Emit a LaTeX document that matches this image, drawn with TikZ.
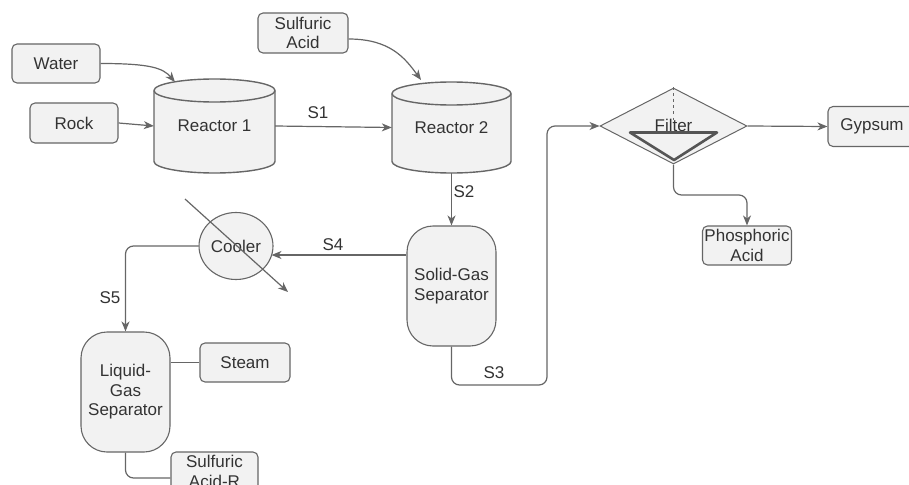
\documentclass[tikz,border=0pt]{standalone}
\usepackage{fontspec}
\setmainfont{Liberation Sans}
\usetikzlibrary{arrows.meta,shapes.geometric}
\definecolor{edge}{HTML}{666666}
\definecolor{edgedark}{HTML}{555555}
\definecolor{fillg}{HTML}{F2F2F2}
\definecolor{txt}{HTML}{333333}
\begin{document}
\begin{tikzpicture}[x=1pt,y=-1pt,
  font=\fontsize{17}{19.5}\selectfont, text=txt,
  box/.style={draw=edge, fill=fillg, rounded corners=5pt, line width=1.1pt, inner sep=0pt, align=center},
  sepbox/.style={draw=edge, fill=fillg, rounded corners=26pt, line width=1.1pt, inner sep=0pt, align=center, minimum width=89pt, minimum height=120pt},
  vessel/.style={draw=edge, fill=fillg, line width=1.4pt},
  flow/.style={draw=edge, line width=1.2pt, -{Stealth[length=10pt,width=8pt,inset=3pt]}},
  link/.style={draw=edge, line width=1.2pt},
  lbl/.style={inner sep=0pt}]
\useasboundingbox (0,0) rectangle (909,484);

% Reactor 1 cylinder
\path[vessel] (154,90.5) -- (154,161.5) arc[start angle=180, end angle=360, x radius=60.5pt, y radius=11.5pt]
  -- (275,90.5) arc[start angle=0, end angle=180, x radius=60.5pt, y radius=11.5pt] -- cycle;
\draw[draw=edge, line width=1.4pt] (154,90.5) arc[start angle=180, end angle=360, x radius=60.5pt, y radius=11.5pt];
\node[minimum width=121pt, minimum height=94pt, inner sep=0pt] (r1) at (214.5,126) {Reactor 1};

% Reactor 2 cylinder
\path[vessel] (392,93.5) -- (392,161.5) arc[start angle=180, end angle=360, x radius=59.5pt, y radius=11.5pt]
  -- (511,93.5) arc[start angle=0, end angle=180, x radius=59.5pt, y radius=11.5pt] -- cycle;
\draw[draw=edge, line width=1.4pt] (392,93.5) arc[start angle=180, end angle=360, x radius=59.5pt, y radius=11.5pt];
\node[minimum width=119pt, minimum height=91pt, inner sep=0pt] (r2) at (451.5,127.5) {Reactor 2};

% Feed boxes
\node[box, minimum width=88pt, minimum height=39pt] (water) at (56,63.5) {Water};
\node[box, minimum width=88pt, minimum height=40pt] (rock) at (74,123) {Rock};
\node[box, minimum width=90pt, minimum height=40pt] (sa) at (303,33) {Sulfuric\\Acid};

% Separators
\node[sepbox] (sgs) at (451.5,286) {Solid-Gas\\Separator};
\node[sepbox] (lgs) at (125.5,392) {Liquid-\\Gas\\Separator};

% Filter
\node[diamond, draw=edge, fill=fillg, line width=1pt, minimum width=147pt, minimum height=76pt, inner sep=0pt] (filter) at (673.5,126) {};
\draw[draw=edge, dashed, line width=0.8pt] (filter.north) -- (673.5,120);
\node[lbl] (filtertxt) at (673.5,125) {Filter};
\draw[draw=edgedark, line width=2.6pt, line join=round] (630,132.5) -- (717,132.5) -- (674,160) -- cycle;

% Products
\node[box, minimum width=88pt, minimum height=40pt] (gyp) at (872,126.5) {Gypsum};
\node[box, minimum width=89pt, minimum height=39pt] (phos) at (747,245.5) {Phosphoric\\Acid};
\node[box, minimum width=90pt, minimum height=39pt] (steam) at (245,362.5) {Steam};
\node[box, minimum width=87pt, minimum height=39pt] (sar) at (214.5,471.5) {Sulfuric\\Acid-R};

% Cooler
\node[ellipse, draw=edge, fill=fillg, line width=1.1pt, minimum width=74pt, minimum height=67pt, inner sep=0pt] (cooler) at (236,246) {Cooler};
\coordinate (cd1) at (185,199);
\coordinate (cd2) at (288,292);
\draw[flow] (cd1) -- (cd2);

% Connectors
\draw[flow] (water.east) .. controls (150,63.5) and (163,68) .. (175,82);
\draw[flow] (sa.east |- 0,39) .. controls (390,39) and (405,58) .. (421,80);
\draw[flow] (rock.east) -- (r1.west);
\draw[flow] (r1.east) -- (r2.west);
\draw[flow] (r2.south) -- (sgs.north);
\draw[flow, rounded corners=8pt] (sgs.south) |- (547,385) |- (filter.west);
\draw[flow] (filter.east) -- (gyp.west);
\draw[flow, rounded corners=8pt] (filter.south) |- (747,195) -- (phos.north);
\draw[flow] (sgs.west |- 0,255) -- (271.5,255);
\draw[flow, rounded corners=8pt] (cooler.west) -| (lgs.north);
\draw[link] (lgs.east |- steam.west) -- (steam.west);
\draw[link, rounded corners=8pt] (lgs.south) |- (sar.west |- 0,478);

% Stream labels
\node[lbl] (s1) at (318,113) {S1};
\node[lbl] (s2) at (464,192) {S2};
\node[lbl] (s3) at (494,373) {S3};
\node[lbl] (s4) at (333,245) {S4};
\node[lbl] (s5) at (110,298) {S5};
\end{tikzpicture}
\end{document}
